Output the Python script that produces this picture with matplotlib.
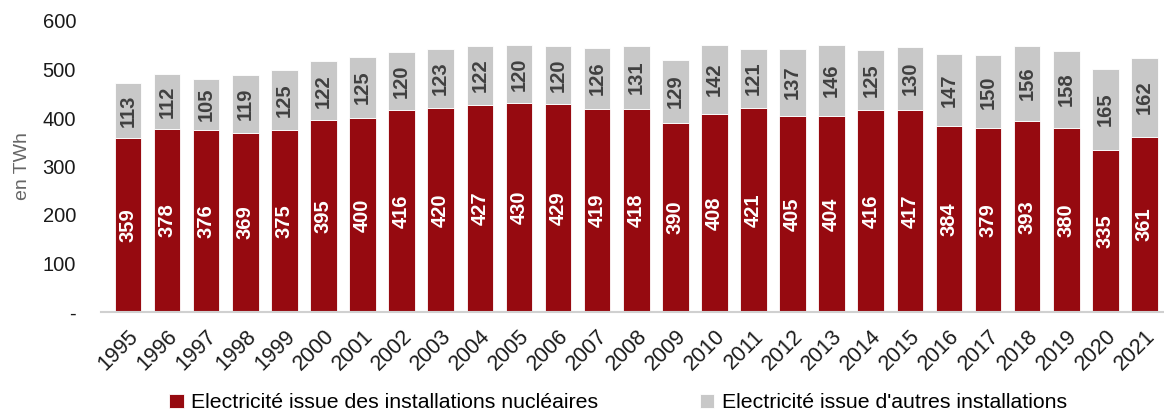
import matplotlib
matplotlib.use("Agg")
import matplotlib.pyplot as plt

plt.rcParams['font.family'] = ['Liberation Sans', 'DejaVu Sans']

years = [str(y) for y in range(1995, 2022)]
nuclear = [359, 378, 376, 369, 375, 395, 400, 416, 420, 427, 430, 429, 419, 418,
           390, 408, 421, 405, 404, 416, 417, 384, 379, 393, 380, 335, 361]
other = [113, 112, 105, 119, 125, 122, 125, 120, 123, 122, 120, 120, 126, 131,
         129, 142, 121, 137, 146, 125, 130, 147, 150, 156, 158, 165, 162]

red = '#960A10'
grey = '#C8C8C8'

fig = plt.figure(figsize=(11.64, 4.13), dpi=100)
ax = fig.add_axes([101/1164, 1-312/413, (1164-101)/1164, (312-21)/413])

x = list(range(len(years)))
w = 0.68
b1 = ax.bar(x, nuclear, width=w, color=red, edgecolor='white', linewidth=0.6,
            label='Electricité issue des installations nucléaires')
b2 = ax.bar(x, other, width=w, bottom=nuclear, color=grey, edgecolor='white', linewidth=0.6,
            label="Electricité issue d'autres installations")

for i in x:
    ax.text(i, nuclear[i] / 2, str(nuclear[i]), rotation=90, ha='center', va='center',
            color='white', fontsize=14.5, fontweight='bold')
    ax.text(i, nuclear[i] + other[i] / 2, str(other[i]), rotation=90, ha='center', va='center',
            color='#404040', fontsize=14.5, fontweight='bold')

ax.set_xlim(-0.69, 26.5)
ax.set_ylim(0, 600)
ax.set_yticks(range(0, 601, 100))
ax.set_yticklabels(['-'] + [str(v) for v in range(100, 601, 100)], fontsize=14.5, color='#1a1a1a')
ax.set_xticks(x)
ax.set_xticklabels(years, rotation=45, ha='right', rotation_mode='anchor', fontsize=15.5, color='#1a1a1a')
ax.tick_params(axis='both', length=0)
ax.tick_params(axis='y', pad=18)
ax.tick_params(axis='x', pad=10)
for s in ['top', 'right', 'left']:
    ax.spines[s].set_visible(False)
ax.spines['bottom'].set_color('#d0d0d0')
ax.spines['bottom'].set_linewidth(1.5)
ax.set_ylabel('en TWh', fontsize=14, color='#666666', labelpad=8)

fig.legend(handles=[b1, b2], loc='lower left', bbox_to_anchor=(150/1164, -0.045), ncol=2,
           frameon=False, fontsize=15.3, handlelength=0.7, handleheight=0.7,
           handletextpad=0.35, columnspacing=4.75)

fig.savefig('out.png', dpi=100)
